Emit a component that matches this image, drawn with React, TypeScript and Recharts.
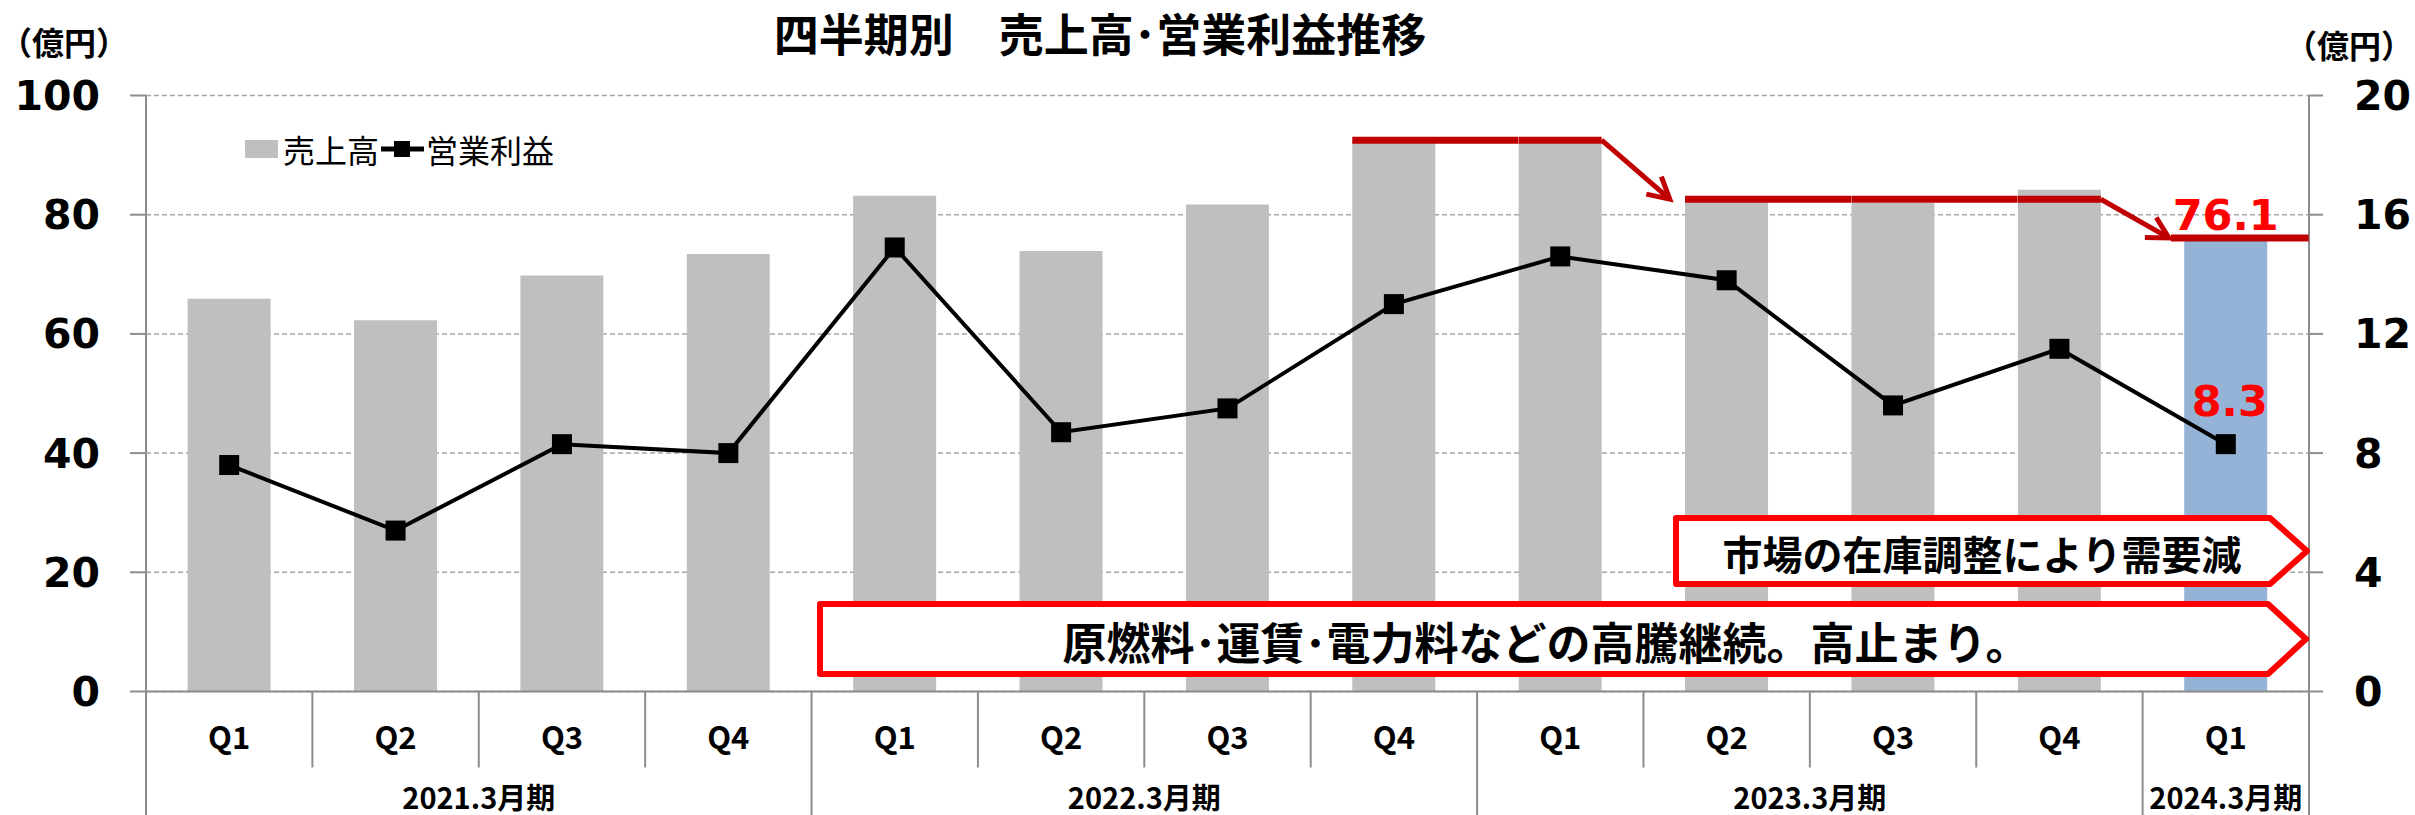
import React from 'react'
import {
  ComposedChart,
  Bar,
  Line,
  XAxis,
  YAxis,
  CartesianGrid,
  Cell
} from 'recharts'

// quarterly sales (left axis) and operating profit (right axis), 億円
const quarters = ['Q1', 'Q2', 'Q3', 'Q4', 'Q1', 'Q2', 'Q3', 'Q4', 'Q1', 'Q2', 'Q3', 'Q4', 'Q1']
const periods = [
  '2021.3月期', '2021.3月期', '2021.3月期', '2021.3月期',
  '2022.3月期', '2022.3月期', '2022.3月期', '2022.3月期',
  '2023.3月期', '2023.3月期', '2023.3月期', '2023.3月期',
  '2024.3月期'
]
const sales = [65.9, 62.3, 69.8, 73.4, 83.2, 73.9, 81.7, 92.5, 92.4, 82.6, 82.0, 84.2, 76.1]
const operatingProfit = [7.6, 5.4, 8.3, 8.0, 14.9, 8.7, 9.5, 13.0, 14.6, 13.8, 9.6, 11.5, 8.3]
const leftTicks = [0, 20, 40, 60, 80, 100]
const rightTicks = [0, 4, 8, 12, 16, 20]

// red "level" markers over the sales bars (index ranges)
const salesLevels = [
  { from: 7, to: 8, level: 92.5, next: 82.6 },
  { from: 9, to: 11, level: 82.6, next: 76.1 },
  { from: 12, to: 12, level: 76.1, next: null as number | null }
]

const rows = quarters.map((q, i) => ({
  key: `${periods[i]}-${q}`,
  sales: sales[i],
  profit: operatingProfit[i]
}))

const lastIndex = rows.length - 1
const JP = '"Noto Sans CJK JP", "Noto Sans", sans-serif'
const NUM = '"DejaVu Sans", Verdana, sans-serif'
const AXIS_GREY = '#8C8C8C'
const DARK_RED = '#C00000'

const XTick = (props: any) => {
  const { x, y, payload } = props
  const i: number = props.index ?? payload.index
  const half: number = payload.offset
  const groupStart = i === 0 || periods[i - 1] !== periods[i]
  let n = 0
  while (groupStart && periods[i + n] === periods[i]) n++
  return (
    <g>
      <line x1={x - half} y1={y} x2={x - half} y2={groupStart ? y + 124 : y + 76} stroke={AXIS_GREY} strokeWidth={2} />
      {i === lastIndex && (
        <line x1={x + half} y1={y} x2={x + half} y2={y + 124} stroke={AXIS_GREY} strokeWidth={2} />
      )}
      <text x={x} y={y + 44} textAnchor="middle" dominantBaseline="central"
        fontFamily={JP} fontWeight={700} fontSize={31} fill="#000">
        {quarters[i]}
      </text>
      {groupStart && (
        <text x={x - half + n * half} y={y + 104} textAnchor="middle" dominantBaseline="central"
          fontFamily={JP} fontWeight={700} fontSize={29} fill="#000">
          {periods[i]}
        </text>
      )}
    </g>
  )
}

const arrowHead = (x1: number, y1: number, x2: number, y2: number) => {
  const a = Math.atan2(y2 - y1, x2 - x1)
  const len = 24
  const p = (d: number) => `${x2 - len * Math.cos(a + d)},${y2 - len * Math.sin(a + d)}`
  return <polyline points={`${p(0.5)} ${x2},${y2} ${p(-0.5)}`} fill="none" stroke={DARK_RED} strokeWidth={5} />
}

// bar label: draws the red level line / arrows from the bar geometry, plus the 76.1 value
const salesLabel = (props: any) => {
  const { x, y, width, height, value, index } = props
  const g = salesLevels.find(l => index >= l.from && index <= l.to)
  if (!g) return null
  const band = width * 2 // barCategoryGap 25% -> bar is half the band
  const base = y + height
  const perUnit = height / value
  const ly = base - g.level * perUnit
  let xs = x
  let xe = index < g.to ? x + band : x + width
  if (g.next == null) {
    xs = x - band * 0.08
    xe = x + width + band * 0.25
  }
  return (
    <g>
      <line x1={xs} y1={ly} x2={xe} y2={ly} stroke={DARK_RED} strokeWidth={7} />
      {index === g.to && g.next != null && (
        <g>
          <line x1={x + width} y1={ly} x2={x + width + band * 0.41} y2={base - g.next * perUnit}
            stroke={DARK_RED} strokeWidth={5} />
          {arrowHead(x + width, ly, x + width + band * 0.41, base - g.next * perUnit)}
        </g>
      )}
      {index === lastIndex && (
        <text x={x + width / 2} y={ly - 8} textAnchor="middle" fill="#FF0000"
          fontFamily={NUM} fontWeight={700} fontSize={43}>
          {value}
        </text>
      )}
    </g>
  )
}

const profitLabel = (props: any) => {
  const { x, y, value, index } = props
  if (index !== lastIndex) return null
  return (
    <text x={x + 4} y={y - 28} textAnchor="middle" fill="#FF0000"
      fontFamily={NUM} fontWeight={700} fontSize={43}>
      {value}
    </text>
  )
}

const SquareDot = (props: any) => {
  const { cx, cy, index } = props
  return <rect key={`dot-${index}`} x={cx - 10} y={cy - 10} width={20} height={20} fill="#000" />
}

const Callout = ({ left, right, tip, top, bottom, text, fontSize, textX }: any) => (
  <g>
    <path
      d={`M${left},${top} L${right},${top} L${tip},${(top + bottom) / 2} L${right},${bottom} L${left},${bottom} Z`}
      fill="#fff" stroke="#FF0000" strokeWidth={6} strokeLinejoin="round"
    />
    <text x={textX} y={(top + bottom) / 2 + 2} textAnchor="middle" dominantBaseline="central"
      fontFamily={JP} fontWeight={700} fontSize={fontSize} fill="#000">
      {text}
    </text>
  </g>
)

export default function App() {
  const tickStyle = { fill: '#000', fontSize: 41, fontWeight: 700, fontFamily: NUM }
  return (
    <div style={{ position: 'absolute', left: 0, top: 0, width: 2415, height: 815, background: '#fff' }}>
      <ComposedChart
        width={2415}
        height={815}
        data={rows}
        margin={{ top: 95.5, right: 0, bottom: 0, left: 0 }}
        barCategoryGap="25%"
      >
        <CartesianGrid yAxisId="left" vertical={false} stroke="#A6A6A6" strokeDasharray="5 3" strokeWidth={1.5} />
        <XAxis
          dataKey="key"
          height={123.5}
          interval={0}
          tickSize={0}
          tickMargin={0}
          tickLine={false}
          axisLine={{ stroke: AXIS_GREY, strokeWidth: 2 }}
          tick={<XTick />}
        />
        <YAxis
          yAxisId="left"
          width={146}
          domain={[0, 100]}
          ticks={leftTicks}
          tickSize={16}
          tickMargin={30}
          axisLine={{ stroke: AXIS_GREY, strokeWidth: 2 }}
          tickLine={{ stroke: AXIS_GREY, strokeWidth: 2 }}
          tick={tickStyle}
        />
        <YAxis
          yAxisId="right"
          orientation="right"
          width={106}
          domain={[0, 20]}
          ticks={rightTicks}
          tickSize={14}
          tickMargin={31}
          axisLine={{ stroke: AXIS_GREY, strokeWidth: 2 }}
          tickLine={{ stroke: AXIS_GREY, strokeWidth: 2 }}
          tick={tickStyle}
        />
        <Bar dataKey="sales" yAxisId="left" isAnimationActive={false} label={salesLabel}>
          {rows.map((_, i) => (
            <Cell key={`cell-${i}`} fill={i === lastIndex ? '#95B3D7' : '#BFBFBF'} />
          ))}
        </Bar>
        <Line
          dataKey="profit"
          yAxisId="right"
          stroke="#000"
          strokeWidth={4}
          dot={<SquareDot />}
          activeDot={false}
          label={profitLabel}
          isAnimationActive={false}
        />
      </ComposedChart>

      <svg width={2415} height={815} style={{ position: 'absolute', left: 0, top: 0, pointerEvents: 'none' }}>
        <text x={1100} y={52} textAnchor="middle"
          fontFamily={JP} fontWeight={700} fontSize={45} fill="#000">
          四半期別　売上高･営業利益推移
        </text>
        <text x={0} y={55} textAnchor="start"
          fontFamily={JP} fontWeight={700} fontSize={32} fill="#000">（億円）</text>
        <text x={2413} y={58} textAnchor="end"
          fontFamily={JP} fontWeight={700} fontSize={32} fill="#000">（億円）</text>

        {/* legend */}
        <rect x={245} y={140} width={33} height={18} fill="#BFBFBF" />
        <text x={283} y={149} dominantBaseline="central" fontFamily={JP} fontSize={32} fill="#000">売上高</text>
        <line x1={381} y1={149} x2={424} y2={149} stroke="#000" strokeWidth={5} />
        <rect x={394} y={141} width={16} height={16} fill="#000" />
        <text x={426} y={149} dominantBaseline="central" fontFamily={JP} fontSize={32} fill="#000">営業利益</text>

        <Callout left={1676} right={2270} tip={2307} top={518} bottom={584}
          text="市場の在庫調整により需要減" fontSize={40} textX={1982} />
        <Callout left={820} right={2268} tip={2306} top={604} bottom={674}
          text="原燃料･運賃･電力料などの高騰継続。高止まり。" fontSize={44} textX={1546} />
      </svg>
    </div>
  )
}
